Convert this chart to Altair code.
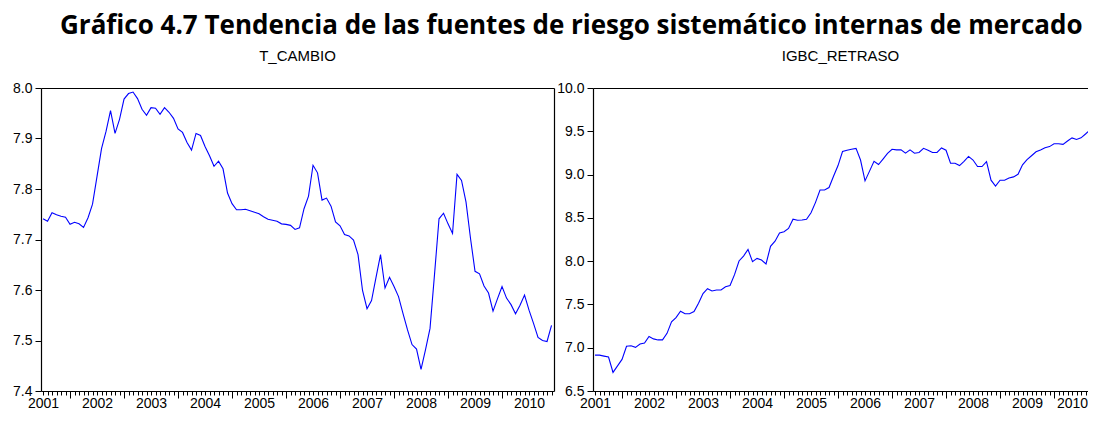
import altair as alt
import pandas as pd

# Monthly observations, 2001M07 .. 2010M12
fechas = pd.period_range("2001-07", "2010-12", freq="M").strftime("%Y-%m").tolist()

t_cambio = [
    7.741, 7.736, 7.753, 7.749, 7.746, 7.744, 7.730, 7.734, 7.731, 7.724,
    7.743, 7.770, 7.825, 7.880, 7.914, 7.955, 7.910, 7.938, 7.978, 7.989,
    7.992, 7.979, 7.958, 7.946, 7.961, 7.960, 7.948, 7.961, 7.952, 7.940,
    7.919, 7.912, 7.892, 7.877, 7.910, 7.906, 7.884, 7.866, 7.845, 7.855,
    7.840, 7.792, 7.771, 7.759, 7.759, 7.760, 7.757, 7.754, 7.751, 7.745,
    7.740, 7.738, 7.736, 7.731, 7.730, 7.728, 7.720, 7.723, 7.761, 7.786,
    7.847, 7.832, 7.778, 7.782, 7.766, 7.735, 7.727, 7.710, 7.707, 7.699,
    7.670, 7.599, 7.563, 7.579, 7.625, 7.670, 7.604, 7.625, 7.607, 7.587,
    7.553, 7.521, 7.492, 7.483, 7.443, 7.482, 7.524, 7.631, 7.741, 7.752,
    7.731, 7.712, 7.829, 7.817, 7.774, 7.702, 7.637, 7.632, 7.608, 7.594,
    7.558, 7.583, 7.607, 7.584, 7.571, 7.553, 7.570, 7.590, 7.560, 7.534,
    7.506, 7.500, 7.498, 7.530,
]

igbc_retraso = [
    6.914, 6.914, 6.903, 6.892, 6.715, 6.790, 6.865, 7.016, 7.023, 7.004,
    7.042, 7.053, 7.129, 7.102, 7.090, 7.090, 7.166, 7.298, 7.347, 7.422,
    7.392, 7.392, 7.418, 7.513, 7.626, 7.682, 7.655, 7.666, 7.666, 7.704,
    7.719, 7.844, 8.002, 8.058, 8.134, 7.994, 8.032, 8.013, 7.968, 8.171,
    8.231, 8.325, 8.340, 8.378, 8.484, 8.473, 8.476, 8.484, 8.558, 8.679,
    8.822, 8.822, 8.850, 8.980, 9.104, 9.266, 9.281, 9.292, 9.303, 9.168,
    8.927, 9.040, 9.153, 9.116, 9.179, 9.244, 9.292, 9.285, 9.285, 9.247,
    9.285, 9.247, 9.255, 9.303, 9.281, 9.255, 9.255, 9.308, 9.281, 9.131,
    9.131, 9.104, 9.153, 9.210, 9.168, 9.093, 9.093, 9.150, 8.935, 8.868,
    8.935, 8.935, 8.961, 8.973, 9.003, 9.112, 9.172, 9.217, 9.263, 9.285,
    9.311, 9.323, 9.356, 9.356, 9.349, 9.387, 9.424, 9.405, 9.424, 9.469,
    9.518, 9.540, 9.570, 9.590,
]

y_ticks_left = [7.4, 7.5, 7.6, 7.7, 7.8, 7.9, 8.0]
y_ticks_right = [6.5, 7.0, 7.5, 8.0, 8.5, 9.0, 9.5, 10.0]

titulo = "Gráfico 4.7 Tendencia de las fuentes de riesgo sistemático internas de mercado"

idx = list(range(len(fechas)))
df = pd.DataFrame({"t": idx, "fecha": fechas, "T_CAMBIO": t_cambio,
                   "IGBC_RETRASO": igbc_retraso})

FONT = "Liberation Sans"
PX_PER_MONTH = 4.5
X0 = -0.45
PLOT_H = 303


def panel(col, ydom, yvals, width, right_border, last_label_shift):
    xdom = [X0, X0 + width / PX_PER_MONTH]
    xscale = alt.Scale(domain=xdom, nice=False, zero=False)
    yscale = alt.Scale(domain=ydom, nice=False, zero=False)
    x_axis = alt.Axis(
        values=idx,
        tickSize={"condition": {"test": "datum.value % 12 == 6", "value": 7}, "value": 4},
        labelExpr="datum.value % 12 == 0 ? '' + (2001 + datum.value / 12) : ''",
        labelOffset={"condition": {"test": "datum.value == 108", "value": last_label_shift},
                     "value": 0},
        labelOverlap=False,
        labelFlush=False,
        labelPadding=1,
        labelFontSize=14,
        labelFont=FONT,
        labelColor="#000",
        tickColor="#000",
        domain=True,
        domainColor="#000",
        domainWidth=1.2,
        grid=False,
        title=None,
    )
    y_axis = alt.Axis(
        values=yvals,
        format=".1f",
        tickSize=6,
        labelPadding=3,
        labelFontSize=14,
        labelFont=FONT,
        labelColor="#000",
        tickColor="#000",
        domain=True,
        domainColor="#000",
        domainWidth=1.2,
        grid=False,
        title=None,
    )
    line = alt.Chart(df).mark_line(color="#0000ff", strokeWidth=1.1, clip=True).encode(
        x=alt.X("t:Q", scale=xscale, axis=x_axis),
        y=alt.Y(f"{col}:Q", scale=yscale, axis=y_axis),
    )
    top_axis = alt.Axis(orient="top", domain=True, domainColor="#000", domainWidth=1.2,
                        ticks=False, labels=False, grid=False, title=None)
    if right_border:
        right_axis = alt.Axis(orient="right", domain=True, domainColor="#000", domainWidth=1.2,
                              ticks=False, labels=False, grid=False, title=None)
    else:
        right_axis = None
    frame = alt.Chart(df).mark_line(opacity=0, clip=True).encode(
        x=alt.X("t:Q", scale=xscale, axis=top_axis),
        y=alt.Y(f"{col}:Q", scale=yscale, axis=right_axis),
    )
    return alt.layer(line, frame).resolve_axis(x="independent", y="independent").properties(
        width=width,
        height=PLOT_H,
        title=alt.TitleParams(col, fontSize=15, font=FONT, fontWeight="normal",
                              baseline="alphabetic", offset=5, color="#000"),
    )


left = panel("T_CAMBIO", [7.4, 8.0], y_ticks_left, 513, True, 0)
right = panel("IGBC_RETRASO", [6.5, 10.0], y_ticks_right, 495, False, -9)

chart = alt.hconcat(left, right, spacing=2).properties(
    title=alt.TitleParams(titulo, fontSize=26, font="Open Sans", fontWeight="bold",
                          anchor="middle", baseline="alphabetic", offset=-11, dx=21,
                          color="#000"),
    padding={"left": 4, "top": 5, "right": 0, "bottom": 0},
).configure(background="white").configure_view(stroke=None)

chart.save("out.html", embed_options={"renderer": "svg", "actions": False})
